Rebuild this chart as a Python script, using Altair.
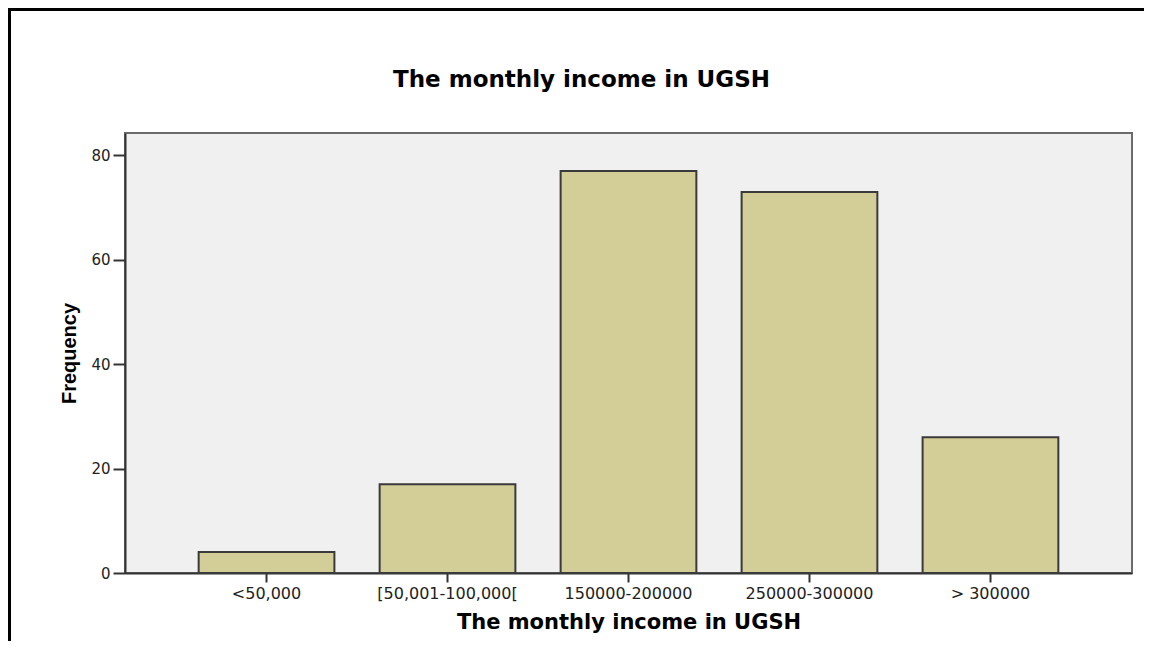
import altair as alt
import pandas as pd

categories = ["<50,000", "[50,001-100,000[", "150000-200000", "250000-300000", "> 300000"]
frequencies = [4, 17, 77, 73, 26]
y_ticks = [0, 20, 40, 60, 80]

df = pd.DataFrame({"income": categories, "freq": frequencies})

bars = alt.Chart(df).mark_bar(
    fill="#d3ce98", stroke="#3a3a3a", strokeWidth=2
).encode(
    x=alt.X(
        "income:N", sort=categories,
        scale=alt.Scale(paddingInner=0.25, paddingOuter=0.407),
        axis=alt.Axis(
            title="The monthly income in UGSH", labelAngle=0, tickSize=9,
            labelPadding=3, labelFont="DejaVu Sans", labelFontSize=16,
            labelColor="#222222", titleFont="DejaVu Sans", titleFontSize=21,
            titleFontWeight="bold", titleColor="#000000", titlePadding=10,
            domainColor="#333333", domainWidth=2, tickColor="#333333", tickWidth=2,
        ),
    ),
    y=alt.Y(
        "freq:Q",
        scale=alt.Scale(domain=[0, 84.3], nice=False),
        axis=alt.Axis(
            title="Frequency", values=y_ticks, grid=False, tickSize=12,
            labelPadding=3, labelFont="DejaVu Sans", labelFontSize=15,
            labelColor="#222222", titleFont="Liberation Sans", titleFontSize=20,
            titleFontWeight="bold", titleColor="#000000", titlePadding=11,
            domainColor="#333333", domainWidth=2, tickColor="#333333", tickWidth=2,
        ),
    ),
)

frame_data = alt.Data(values=[{"k": 1}])
top_rule = alt.Chart(frame_data).mark_rule(color="#000000", strokeWidth=3).encode(
    x=alt.value(-117), x2=alt.value(1030), y=alt.value(-123.5)
)
left_rule = alt.Chart(frame_data).mark_rule(color="#000000", strokeWidth=3).encode(
    x=alt.value(-115.5), y=alt.value(-125), y2=alt.value(520)
)

chart = alt.layer(bars, top_rule, left_rule).properties(
    width=1007,
    height=440,
    background="#ffffff",
    autosize=alt.AutoSizeParams(type="none"),
    padding={"left": 117, "top": 125, "right": 12, "bottom": 68},
    title=alt.Title(
        "The monthly income in UGSH", font="DejaVu Sans", fontSize=23,
        fontWeight="bold", color="#000000", anchor="middle", dx=-47,
        baseline="alphabetic", offset=-103,
    ),
).configure_view(
    fill="#f0f0f0", stroke="#6b6b6b", strokeWidth=2
)

chart.save("out.html", embed_options={"renderer": "svg", "actions": False})
